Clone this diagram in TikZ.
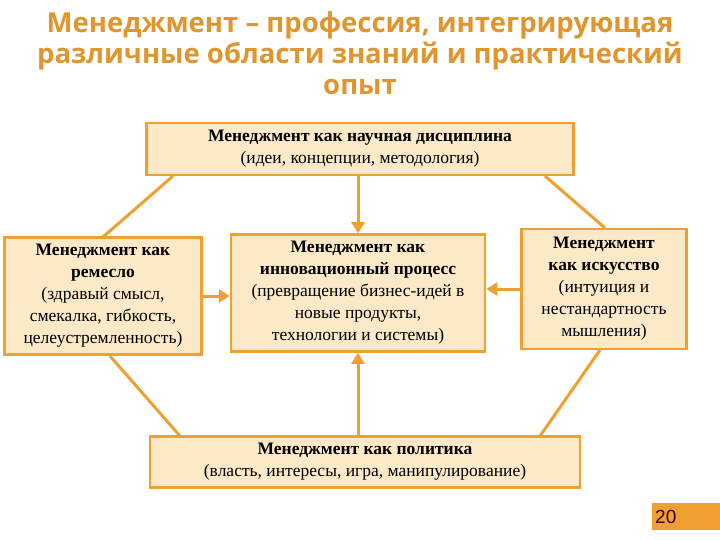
\documentclass[tikz,border=0pt]{standalone}
\usepackage{fontspec}
\setmainfont{Liberation Serif}
\newfontfamily\titlefont{Open Sans}
\newfontfamily\numfont{Liberation Sans}
\usetikzlibrary{arrows.meta}
\definecolor{orn}{HTML}{F0A030}
\definecolor{boxfill}{HTML}{FCE9C8}
\definecolor{ttl}{HTML}{E0962E}
\begin{document}
\begin{tikzpicture}[x=1pt,y=-1pt,
  box/.style={draw=orn,line width=2.5pt,fill=boxfill,inner sep=0pt,align=center,font=\fontsize{17.5}{22}\selectfont},
  link/.style={draw=orn,line width=3pt},
  arr/.style={link,-{Triangle[length=11pt,width=13pt]}}]
\useasboundingbox (0,0) rectangle (720,540);
\node[align=center,text=ttl,font=\titlefont\bfseries\fontsize{27.5}{31}\selectfont] (title) at (360,53) {Менеджмент – профессия, интегрирующая\\различные области знаний и практический\\опыт};
\node[box,minimum width=427pt,minimum height=52pt] (top) at (360,149) {\textbf{Менеджмент как научная дисциплина}\\(идеи, концепции, методология)};
\node[box,minimum width=197pt,minimum height=117pt] (left) at (103,296) {\textbf{Менеджмент как}\\\textbf{ремесло}\\(здравый смысл,\\смекалка, гибкость,\\целеустремленность)};
\node[box,minimum width=254pt,minimum height=117pt] (mid) at (358,293) {\textbf{Менеджмент как}\\\textbf{инновационный процесс}\\(превращение бизнес-идей в\\новые продукты,\\технологии и системы)};
\node[box,minimum width=165pt,minimum height=120pt] (right) at (604,289) {\textbf{Менеджмент}\\\textbf{как искусство}\\(интуиция и\\нестандартность\\мышления)};
\node[box,minimum width=430pt,minimum height=51pt] (bot) at (365,462) {\textbf{Менеджмент как политика}\\(власть, интересы, игра, манипулирование)};
\node[fill=orn,minimum width=68pt,minimum height=27pt,inner sep=2pt,anchor=north west,text=black!80!red,font=\numfont\fontsize{19}{19}\selectfont,text width=62pt,align=left] (num) at (652,503) {20};
\coordinate (tl) at (173,176); \coordinate (lt) at (103,237);
\coordinate (tr) at (545,176); \coordinate (rt) at (605,228);
\coordinate (lb) at (110,356); \coordinate (bl) at (180,436);
\coordinate (rb) at (600,350); \coordinate (br) at (540,436);
\draw[link] (tl) -- (lt);
\draw[link] (tr) -- (rt);
\draw[link] (lb) -- (bl);
\draw[link] (rb) -- (br);
\draw[arr] (top.south -| mid.north) -- (mid.north);
\draw[arr] (bot.north -| mid.south) -- (mid.south);
\draw[arr] (left.east |- 0,296) -- (mid.west |- 0,296);
\draw[arr] (right.west |- 0,289) -- (mid.east |- 0,289);
\end{tikzpicture}
\end{document}
